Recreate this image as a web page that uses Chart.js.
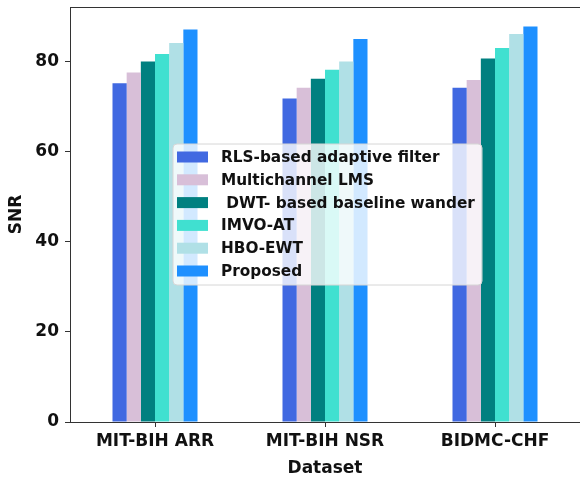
<!DOCTYPE html>
<html>
<head>
<meta charset="utf-8">
<script src="https://cdn.jsdelivr.net/npm/chart.js@4"></script>
<style>
  html, body { margin: 0; padding: 0; overflow: hidden; background: #fff; }
  #chart-container { width: 580px; height: 480px; position: relative; }
</style>
</head>
<body>
<div id="chart-container"><canvas id="myChart"></canvas></div>
<script>
// data
const datasetNames = ["MIT-BIH ARR", "MIT-BIH NSR", "BIDMC-CHF"];
const methodNames = [
  "RLS-based adaptive filter",
  "Multichannel LMS",
  " DWT- based baseline wander",
  "IMVO-AT",
  "HBO-EWT",
  "Proposed",
];
const rlsFilter = [75.1, 71.7, 74.1];
const multiLms = [77.5, 74.1, 75.8];
const dwtWander = [79.9, 76.1, 80.6];
const imvoAt = [81.6, 78.1, 82.9];
const hboEwt = [84.0, 79.9, 86.0];
const proposed = [87.0, 84.9, 87.7];
const yTicks = [0, 20, 40, 60, 80];

const colors = ["#4169E1", "#D8BFD8", "#008080", "#40E0D0", "#B0E0E6", "#1E90FF"];
const series = [rlsFilter, multiLms, dwtWander, imvoAt, hboEwt, proposed];

const font = "'DejaVu Sans', sans-serif";

// legend drawn inside the plot, like matplotlib's "best" location
const innerLegend = {
  id: "innerLegend",
  afterDatasetsDraw(chart) {
    const ctx = chart.ctx;
    const x0 = 173, y0 = 144, w = 309, h = 141;
    ctx.save();
    ctx.beginPath();
    ctx.roundRect(x0, y0, w, h, 4);
    ctx.fillStyle = "rgba(255,255,255,0.8)";
    ctx.fill();
    ctx.strokeStyle = "#d6d6d6";
    ctx.lineWidth = 1;
    ctx.stroke();
    ctx.font = "bold 15.3px " + font;
    ctx.textBaseline = "middle";
    chart.data.datasets.forEach((ds, i) => {
      const y = 157 + i * 22.8;
      ctx.fillStyle = ds.backgroundColor;
      ctx.fillRect(177, y - 5.5, 31, 11);
      ctx.fillStyle = "#111";
      ctx.fillText(ds.label, 221, y + 1);
    });
    ctx.restore();
  },
  afterDraw(chart) {
    // top spine only, the right one falls just outside the picture
    const a = chart.chartArea;
    const ctx = chart.ctx;
    ctx.save();
    ctx.strokeStyle = "#333";
    ctx.lineWidth = 1;
    ctx.beginPath();
    ctx.moveTo(a.left, a.top + 0.5);
    ctx.lineTo(chart.width, a.top + 0.5);
    ctx.stroke();
    ctx.restore();
  },
};

const ctx = document.getElementById("myChart").getContext("2d");
const chart = new Chart(ctx, {
  type: "bar",
  data: {
    labels: datasetNames,
    datasets: series.map((values, i) => ({
      label: methodNames[i],
      data: values,
      backgroundColor: colors[i],
      categoryPercentage: 0.5,
      barPercentage: 1.0,
    })),
  },
  options: {
    responsive: true,
    maintainAspectRatio: false,
    animation: false,
    layout: { padding: { top: 7, left: 0, right: -2, bottom: 0 } },
    plugins: {
      legend: { display: false },
      tooltip: { enabled: false },
    },
    scales: {
      x: {
        grid: {
          display: true,
          offset: false,
          drawOnChartArea: false,
          drawTicks: true,
          tickLength: 5,
          color: "#333",
        },
        border: { color: "#333", width: 1 },
        ticks: {
          color: "#111",
          padding: 4,
          maxRotation: 0,
          font: { family: font, size: 17, weight: "bold" },
        },
        title: {
          display: true,
          text: "Dataset",
          color: "#111",
          padding: { top: 0, bottom: 1 },
          font: { family: font, size: 17, weight: "bold" },
        },
        afterFit: (scale) => {
          scale.height = 58;
          scale.paddingLeft = 0;
          scale.paddingRight = 0;
        },
      },
      y: {
        min: 0,
        max: 92,
        afterBuildTicks: (scale) => {
          scale.ticks = yTicks.map((v) => ({ value: v }));
        },
        grid: {
          display: true,
          drawOnChartArea: false,
          drawTicks: true,
          tickLength: 5,
          color: "#333",
        },
        border: { color: "#333", width: 1 },
        ticks: {
          color: "#111",
          padding: 6,
          font: { family: font, size: 17, weight: "bold" },
        },
        title: {
          display: true,
          text: "SNR",
          color: "#111",
          padding: { top: 6, bottom: 0 },
          font: { family: font, size: 17, weight: "bold" },
        },
        afterFit: (scale) => {
          scale.width = 70;
          scale.paddingTop = 0;
          scale.paddingBottom = 0;
        },
      },
    },
  },
  plugins: [innerLegend],
});
</script>
</body>
</html>
